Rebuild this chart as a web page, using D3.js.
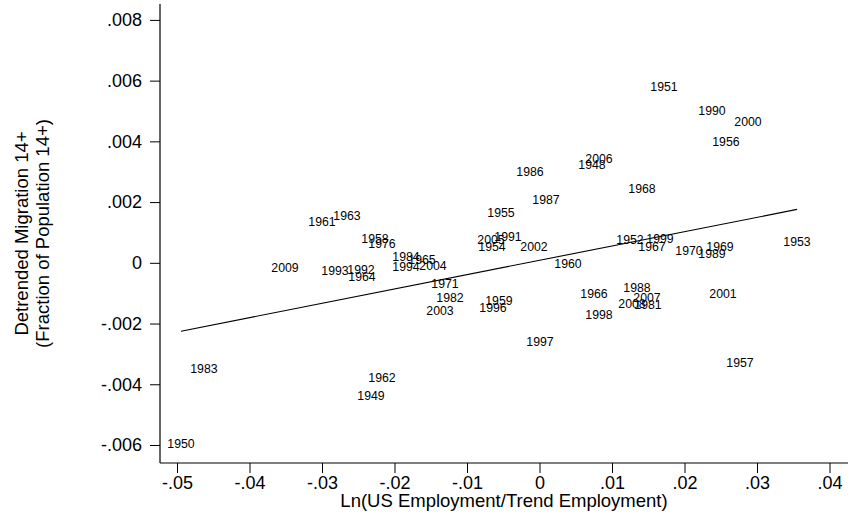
<!DOCTYPE html>
<html>
<head>
<meta charset="utf-8">
<script src="https://cdn.jsdelivr.net/npm/d3@7"></script>
<style>
  html, body { margin: 0; padding: 0; background: #fff; }
  svg { display: block; }
  text { font-family: "Liberation Sans", Arial, sans-serif; fill: #000; }
</style>
</head>
<body>
<svg id="chart" width="851" height="519"></svg>
<script>
// Years observed (each point is labelled with its year)
const years = [1948, 1949, 1950, 1951, 1952, 1953, 1954, 1955, 1956, 1957,
  1958, 1959, 1960, 1961, 1962, 1963, 1964, 1965, 1966, 1967,
  1968, 1969, 1970, 1971, 1976, 1981, 1982, 1983, 1984, 1986,
  1987, 1988, 1989, 1990, 1991, 1992, 1993, 1994, 1996, 1997,
  1998, 1999, 2000, 2001, 2002, 2003, 2004, 2005, 2006, 2007,
  2008, 2009];

// Ln(US employment / trend employment)
const employmentGap = [0.00724, -0.02324, -0.04945, 0.01717, 0.01248, 0.03552, -0.00655, -0.00531, 0.02572, 0.02766,
  -0.02269, -0.00559, 0.00393, -0.03000, -0.02172, -0.02655, -0.02448, -0.01621, 0.00752, 0.01552,
  0.01414, 0.02490, 0.02062, -0.01303, -0.02172, 0.01497, -0.01234, -0.04628, -0.01841, -0.00131,
  0.00090, 0.01345, 0.02379, 0.02379, -0.00434, -0.02462, -0.02821, -0.01841, -0.00641, 0.00007,
  0.00821, 0.01662, 0.02876, 0.02531, -0.00076, -0.01372, -0.01469, -0.00669, 0.00821, 0.01483,
  0.01276, -0.03510];

// Detrended migration 14+ as a fraction of population 14+
const migration = [0.003105, -0.004505, -0.006085, 0.005645, 0.000605, 0.000565, 0.000375, 0.001495, 0.003835, -0.003415,
  0.000665, -0.001375, -0.000155, 0.001225, -0.003915, 0.001395, -0.000585, -0.000025, -0.001145, 0.000375,
  0.002285, 0.000375, 0.000245, -0.000815, 0.000475, -0.001505, -0.001275, -0.003645, 0.000075, 0.002845,
  0.001925, -0.000975, 0.000145, 0.004855, 0.000705, -0.000355, -0.000385, -0.000255, -0.001635, -0.002755,
  -0.001835, 0.000665, 0.004495, -0.001145, 0.000375, -0.001735, -0.000225, 0.000635, 0.003275, -0.001275,
  -0.001475, -0.000315];

// Axis ticks and their labels
const xTicks = [-0.05, -0.04, -0.03, -0.02, -0.01, 0, 0.01, 0.02, 0.03, 0.04];
const xTickLabels = ["-.05", "-.04", "-.03", "-.02", "-.01", "0", ".01", ".02", ".03", ".04"];
const yTicks = [-0.006, -0.004, -0.002, 0, 0.002, 0.004, 0.006, 0.008];
const yTickLabels = ["-.006", "-.004", "-.002", "0", ".002", ".004", ".006", ".008"];

const xTitle = "Ln(US Employment/Trend Employment)";
const yTitleLines = ["Detrended Migration 14+", "(Fraction of Population 14+)"];

(function draw() {
  const svg = d3.select("#chart");

  // Plot region edges (axis lines)
  const plotLeft = 160, plotRight = 848, plotTop = 4, plotBottom = 463;

  const x = d3.scaleLinear().domain([-0.05, 0.04]).range([177, 829.5]);
  const y = d3.scaleLinear().domain([-0.006, 0.008]).range([445, 19.9]);

  // Axes
  const xAxis = d3.axisBottom(x)
    .tickValues(xTicks)
    .tickFormat((d, i) => xTickLabels[i])
    .tickSize(10)
    .tickPadding(3)
    .tickSizeOuter(0);

  const yAxis = d3.axisLeft(y)
    .tickValues(yTicks)
    .tickFormat((d, i) => yTickLabels[i])
    .tickSize(10)
    .tickPadding(8)
    .tickSizeOuter(0);

  const gx = svg.append("g").attr("transform", `translate(0,${plotBottom})`).call(xAxis);
  const gy = svg.append("g").attr("transform", `translate(${plotLeft},0)`).call(yAxis);

  [gx, gy].forEach(g => {
    g.select(".domain").remove();
    g.selectAll(".tick line").attr("stroke", "#000").attr("stroke-width", 1);
    g.selectAll(".tick text")
      .style("font-family", '"Liberation Sans", Arial, sans-serif')
      .style("font-size", "18px")
      .attr("fill", "#000");
  });

  // Axis lines spanning the full plot region
  svg.append("line")
    .attr("x1", plotLeft).attr("x2", plotRight)
    .attr("y1", plotBottom).attr("y2", plotBottom)
    .attr("stroke", "#000").attr("stroke-width", 1.2);
  svg.append("line")
    .attr("x1", plotLeft).attr("x2", plotLeft)
    .attr("y1", plotTop).attr("y2", plotBottom)
    .attr("stroke", "#000").attr("stroke-width", 1.2);

  // Axis titles
  svg.append("text")
    .attr("x", (plotLeft + plotRight) / 2)
    .attr("y", 507)
    .attr("text-anchor", "middle")
    .style("font-size", "18.5px")
    .text(xTitle);

  const yTitle = svg.append("text")
    .attr("transform", `translate(28,${(plotTop + plotBottom) / 2}) rotate(-90)`)
    .attr("text-anchor", "middle")
    .style("font-size", "18.5px");
  yTitle.selectAll("tspan")
    .data(yTitleLines)
    .join("tspan")
    .attr("x", 0)
    .attr("dy", (d, i) => i === 0 ? 0 : 21)
    .text(d => d);

  // Fitted regression line across the observed range
  const pts = years.map((yr, i) => ({ year: yr, gx: employmentGap[i], mig: migration[i] }));
  const mx = d3.mean(pts, d => d.gx);
  const my = d3.mean(pts, d => d.mig);
  const slope = d3.sum(pts, d => (d.gx - mx) * (d.mig - my)) / d3.sum(pts, d => (d.gx - mx) ** 2);
  const intercept = my - slope * mx;
  const [xmin, xmax] = d3.extent(pts, d => d.gx);
  const fit = [xmin, xmax].map(v => ({ gx: v, mig: intercept + slope * v }));

  svg.append("path")
    .datum(fit)
    .attr("fill", "none")
    .attr("stroke", "#000")
    .attr("stroke-width", 1.1)
    .attr("d", d3.line().x(d => x(d.gx)).y(d => y(d.mig)));

  // Year labels: centred horizontally on each observation, sitting on its baseline
  svg.append("g")
    .selectAll("text")
    .data(pts)
    .join("text")
    .attr("x", d => x(d.gx))
    .attr("y", d => y(d.mig))
    .attr("text-anchor", "middle")
    .style("font-size", "12.3px")
    .text(d => d.year);
})();
</script>
</body>
</html>
